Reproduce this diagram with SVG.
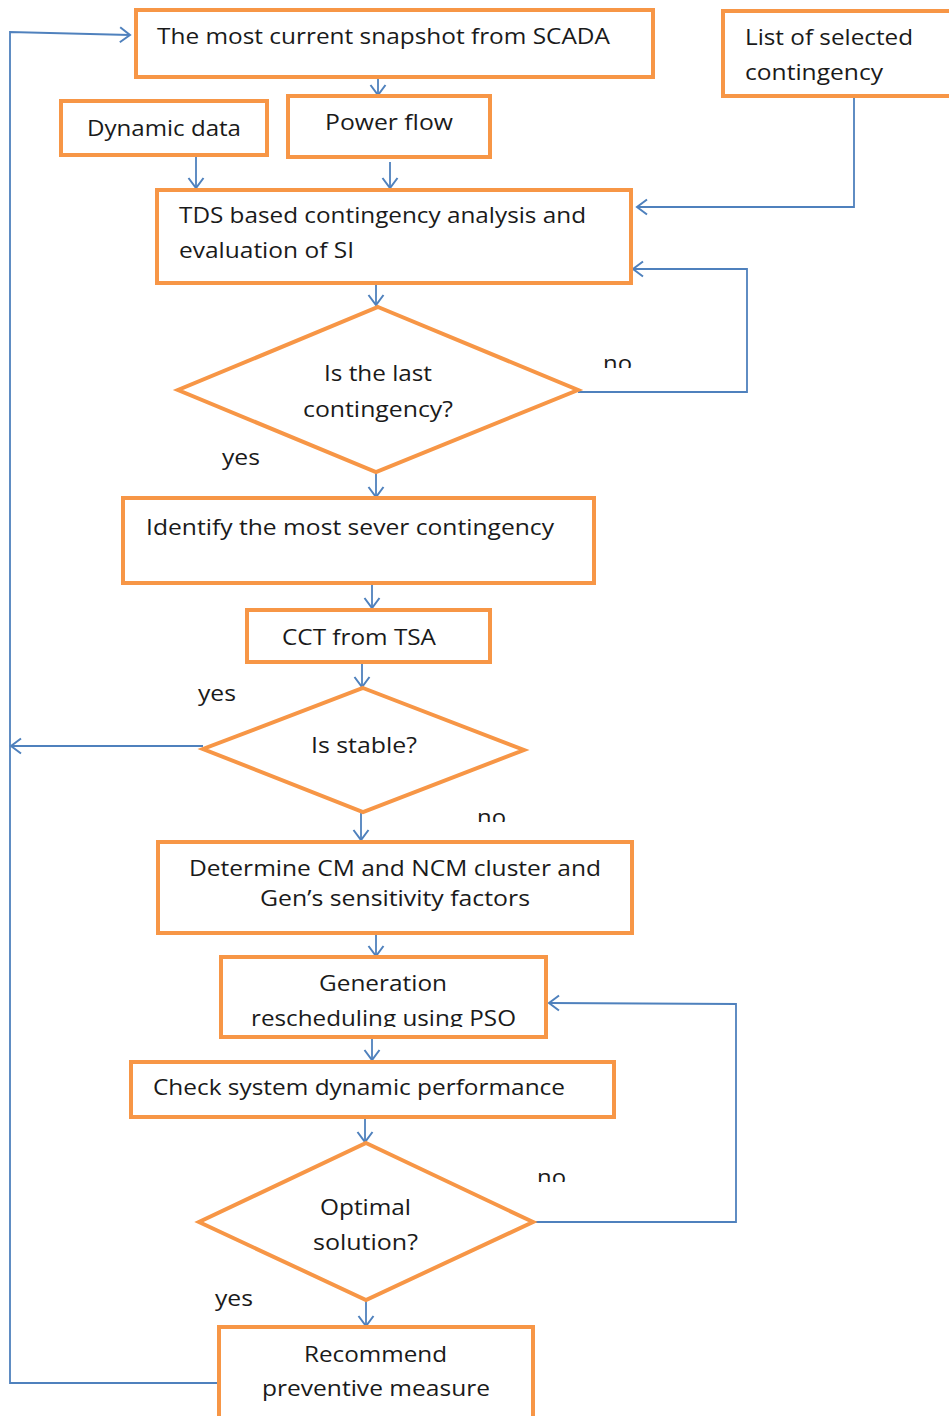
<svg xmlns="http://www.w3.org/2000/svg" width="949" height="1416" viewBox="0 0 949 1416">
  <style>
    .box { fill: #ffffff; stroke: #F79646; stroke-width: 4; }
    .dec { fill: #ffffff; stroke: #F79646; stroke-width: 4; stroke-linejoin: miter; }
    .lbl { font-family: "Open Sans", "Liberation Sans", sans-serif; font-size: 22px; fill: #1a1a1a; }
    .link { fill: none; stroke: #4F81BD; stroke-width: 1.8; }
    .arr { marker-end: url(#vhead); }
  </style>
  <defs>
    <marker id="vhead" markerUnits="userSpaceOnUse" markerWidth="24" markerHeight="24" viewBox="-12 -12 24 24" refX="0" refY="0" orient="auto">
      <path d="M -10 -7.5 L 0 0 L -10 7.5" fill="none" stroke="#4F81BD" stroke-width="2"/>
    </marker>
    <clipPath id="clipNo1"><rect x="590" y="340" width="60" height="28"/></clipPath>
    <clipPath id="clipNo2"><rect x="465" y="795" width="60" height="27"/></clipPath>
    <clipPath id="clipNo3"><rect x="525" y="1155" width="60" height="27"/></clipPath>
    <clipPath id="clipPso"><rect x="225" y="1000" width="318" height="27"/></clipPath>
  </defs>
  <rect width="949" height="1416" fill="#ffffff"/>

  <!-- connectors -->
  <g id="connectors">
    <path class="link arr" d="M 378 77 L 378 95"/>
    <path class="link arr" d="M 196 157 L 196 188"/>
    <path class="link arr" d="M 390 162 L 390 188"/>
    <path class="link arr" d="M 854 96 L 854 207 L 637 207"/>
    <path class="link arr" d="M 578 392 L 747 392 L 747 269 L 633 269"/>
    <path class="link arr" d="M 376 283 L 376 305"/>
    <path class="link arr" d="M 376 472 L 376 497"/>
    <path class="link arr" d="M 372 583 L 372 608"/>
    <path class="link arr" d="M 362 662 L 362 687"/>
    <path class="link arr" d="M 203 746 L 11 746"/>
    <path class="link arr" d="M 361 812 L 361 840"/>
    <path class="link arr" d="M 376 933 L 376 956"/>
    <path class="link arr" d="M 372 1037 L 372 1060"/>
    <path class="link arr" d="M 365 1117 L 365 1142"/>
    <path class="link arr" d="M 533 1222 L 736 1222 L 736 1004 L 549 1003"/>
    <path class="link arr" d="M 366 1300 L 366 1326"/>
    <path class="link arr" d="M 219 1383 L 10 1383 L 10 32 L 130 35"/>
  </g>

  <g id="snapshot">
    <rect class="box" x="136" y="10" width="517" height="67"/>
    <text class="lbl" x="157" y="44" textLength="453" lengthAdjust="spacingAndGlyphs">The most current snapshot from SCADA</text>
  </g>

  <g id="contingency-list">
    <rect class="box" x="723" y="11" width="240" height="85"/>
    <text class="lbl" x="745" y="45" textLength="168" lengthAdjust="spacingAndGlyphs">List of selected</text>
    <text class="lbl" x="745" y="80" textLength="138" lengthAdjust="spacingAndGlyphs">contingency</text>
  </g>

  <g id="dynamic-data">
    <rect class="box" x="61" y="101" width="206" height="54"/>
    <text class="lbl" x="87" y="136" textLength="154" lengthAdjust="spacingAndGlyphs">Dynamic data</text>
  </g>

  <g id="power-flow">
    <rect class="box" x="288" y="96" width="202" height="61"/>
    <text class="lbl" x="325" y="130" textLength="128" lengthAdjust="spacingAndGlyphs">Power flow</text>
  </g>

  <g id="tds-analysis">
    <rect class="box" x="157" y="190" width="474" height="93"/>
    <text class="lbl" x="179" y="223" textLength="407" lengthAdjust="spacingAndGlyphs">TDS based contingency analysis and</text>
    <text class="lbl" x="179" y="258" textLength="175" lengthAdjust="spacingAndGlyphs">evaluation of SI</text>
  </g>

  <g id="last-contingency">
    <polygon class="dec" points="378,307 578,390 376,472 178,390"/>
    <text class="lbl" x="324" y="381" textLength="108" lengthAdjust="spacingAndGlyphs">Is the last</text>
    <text class="lbl" x="303" y="417" textLength="150" lengthAdjust="spacingAndGlyphs">contingency?</text>
    <text class="lbl" x="603" y="371" textLength="29" lengthAdjust="spacingAndGlyphs" clip-path="url(#clipNo1)">no</text>
    <text class="lbl" x="222" y="465" textLength="38" lengthAdjust="spacingAndGlyphs">yes</text>
  </g>

  <g id="most-severe">
    <rect class="box" x="123" y="498" width="471" height="85"/>
    <text class="lbl" x="146" y="535" textLength="408" lengthAdjust="spacingAndGlyphs">Identify the most sever contingency</text>
  </g>

  <g id="cct">
    <rect class="box" x="247" y="610" width="243" height="52"/>
    <text class="lbl" x="282" y="645" textLength="154" lengthAdjust="spacingAndGlyphs">CCT from TSA</text>
  </g>

  <g id="is-stable">
    <polygon class="dec" points="363,688 524,750 363,812 203,749"/>
    <text class="lbl" x="311" y="753" textLength="106" lengthAdjust="spacingAndGlyphs">Is stable?</text>
    <text class="lbl" x="198" y="701" textLength="38" lengthAdjust="spacingAndGlyphs">yes</text>
    <text class="lbl" x="477" y="825" textLength="29" lengthAdjust="spacingAndGlyphs" clip-path="url(#clipNo2)">no</text>
  </g>

  <g id="clusters">
    <rect class="box" x="158" y="842" width="474" height="91"/>
    <text class="lbl" x="189" y="876" textLength="412" lengthAdjust="spacingAndGlyphs">Determine CM and NCM cluster and</text>
    <text class="lbl" x="260" y="906" textLength="270" lengthAdjust="spacingAndGlyphs">Gen’s sensitivity factors</text>
  </g>

  <g id="rescheduling">
    <rect class="box" x="221" y="957" width="325" height="80"/>
    <text class="lbl" x="319" y="991" textLength="128" lengthAdjust="spacingAndGlyphs">Generation</text>
    <text class="lbl" x="251" y="1026" textLength="265" lengthAdjust="spacingAndGlyphs" clip-path="url(#clipPso)">rescheduling using PSO</text>
  </g>

  <g id="dynamic-check">
    <rect class="box" x="131" y="1062" width="483" height="55"/>
    <text class="lbl" x="153" y="1095" textLength="412" lengthAdjust="spacingAndGlyphs">Check system dynamic performance</text>
  </g>

  <g id="optimal">
    <polygon class="dec" points="366,1143 533,1222 366,1300 199,1222"/>
    <text class="lbl" x="320" y="1215" textLength="91" lengthAdjust="spacingAndGlyphs">Optimal</text>
    <text class="lbl" x="313" y="1250" textLength="105" lengthAdjust="spacingAndGlyphs">solution?</text>
    <text class="lbl" x="537" y="1185" textLength="29" lengthAdjust="spacingAndGlyphs" clip-path="url(#clipNo3)">no</text>
    <text class="lbl" x="215" y="1306" textLength="38" lengthAdjust="spacingAndGlyphs">yes</text>
  </g>

  <g id="recommend">
    <rect class="box" x="219" y="1327" width="314" height="100"/>
    <text class="lbl" x="304" y="1362" textLength="143" lengthAdjust="spacingAndGlyphs">Recommend</text>
    <text class="lbl" x="262" y="1396" textLength="228" lengthAdjust="spacingAndGlyphs">preventive measure</text>
  </g>
</svg>
